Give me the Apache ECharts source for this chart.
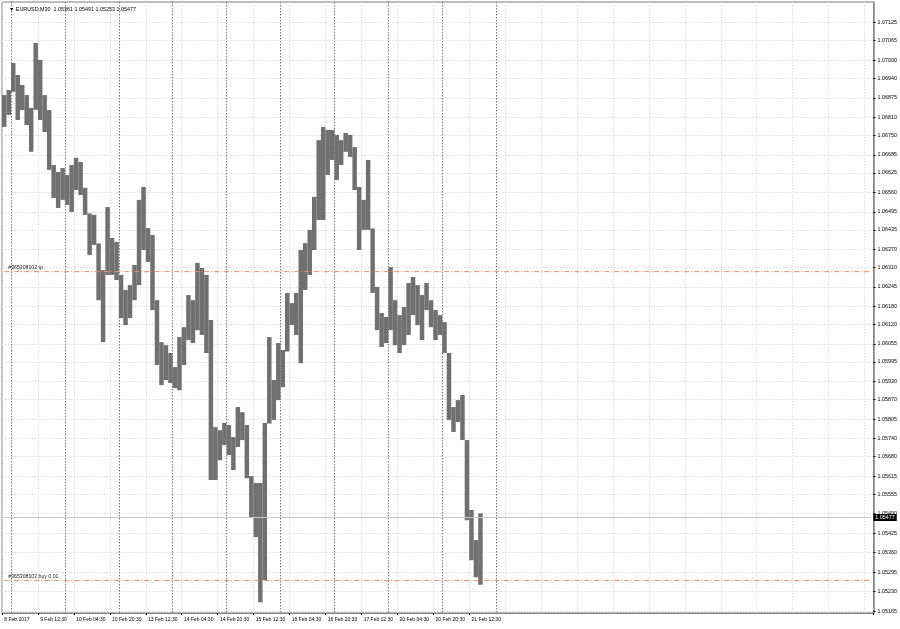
<!DOCTYPE html>
<html><head><meta charset="utf-8">
<script src="https://cdn.jsdelivr.net/npm/echarts@6/dist/echarts.min.js"></script>
<style>html,body{margin:0;padding:0;background:#fff}#c{width:900px;height:629px}</style>
</head><body><div id="c"></div>
<script>
// 2-hour buckets starting 8 Feb 2017 20:00 (M30 bars grouped), EURUSD
const dayNames = ['8 Feb','9 Feb','10 Feb','13 Feb','14 Feb','15 Feb','16 Feb','17 Feb','20 Feb','21 Feb','22 Feb','23 Feb','24 Feb','27 Feb','28 Feb','1 Mar','2 Mar'];
const highs = [
1.06884,1.06901,1.06991,1.06951,1.06918,1.06884,1.06841,1.07058,1.07001,1.06884,
1.06834,1.06651,1.06628,1.06641,1.06618,1.06651,1.06675,1.06661,1.06575,1.06490,
1.06485,1.06390,1.06301,1.06511,1.06408,1.06395,1.06285,1.06235,1.06251,1.06318,
1.06535,1.06578,1.06441,1.06418,1.06201,1.06061,1.06051,1.06025,1.05978,1.06078,
1.06111,1.06218,1.06201,1.06325,1.06308,1.06285,1.06135,1.05778,1.05768,1.05792,
1.05785,1.05745,1.05845,1.05828,1.05785,1.05615,1.05592,1.05592,1.05792,1.06078,
1.05935,1.06058,1.06035,1.06225,1.06191,1.06225,1.06368,1.06391,1.06435,1.06545,
1.06734,1.06778,1.06768,1.06768,1.06751,1.06734,1.06758,1.06751,1.06711,1.06578,
1.06535,1.06668,1.06440,1.06245,1.06158,1.06145,1.06311,1.06201,1.06151,1.06178,
1.06258,1.06278,1.06251,1.06218,1.06258,1.06201,1.06168,1.06151,1.06128,1.06025,
1.05845,1.05868,1.05885,1.05735,1.05502,1.05402,1.05491];
const lows = [
1.06778,1.06818,1.06895,1.06801,1.06834,1.06784,1.06695,1.06835,1.06801,1.06761,
1.06635,1.06541,1.06508,1.06535,1.06518,1.06495,1.06568,1.06551,1.06485,1.06351,
1.06385,1.06201,1.06061,1.06285,1.06285,1.06268,1.06141,1.06118,1.06141,1.06201,
1.06251,1.06368,1.06328,1.06168,1.05985,1.05918,1.05935,1.05925,1.05908,1.05901,
1.05985,1.06068,1.06058,1.06101,1.06085,1.06025,1.05602,1.05602,1.05668,1.05718,
1.05685,1.05635,1.05712,1.05735,1.05608,1.05478,1.05412,1.05195,1.05268,1.05790,
1.05802,1.05868,1.05911,1.06030,1.06118,1.06085,1.05991,1.06235,1.06285,1.06368,
1.06468,1.06468,1.06618,1.06668,1.06601,1.06651,1.06695,1.06678,1.06568,1.06368,
1.06435,1.06435,1.06225,1.06101,1.06045,1.06058,1.06101,1.06051,1.06025,1.06051,
1.06085,1.06151,1.06118,1.06068,1.06168,1.06111,1.06068,1.06085,1.06025,1.05802,
1.05762,1.05795,1.05735,1.05468,1.05335,1.05278,1.05253];
const yTicks = [1.07125,1.07065,1.07000,1.06940,1.06875,1.06810,1.06750,1.06685,1.06625,1.06560,1.06495,1.06435,1.06370,1.06310,1.06245,1.06180,1.06120,1.06055,1.05995,1.05930,1.05870,1.05805,1.05740,1.05680,1.05615,1.05555,1.05490,1.05425,1.05360,1.05295,1.05230,1.05165];
const xTickIndex = [0,8,16,24,32,40,48,56,64,72,80,88,96,104];
const xTickLabels = ['8 Feb 2017','9 Feb 12:30','10 Feb 04:30','10 Feb 20:30','13 Feb 12:30','14 Feb 04:30','14 Feb 20:30','15 Feb 12:30','16 Feb 04:30','16 Feb 20:30','17 Feb 12:30','20 Feb 04:30','20 Feb 20:30','21 Feb 12:30'];
const daySepIndex = [2,14,26,38,50,62,74,86,98,110];
const tpPrice = 1.06296, buyPrice = 1.05267, bidPrice = 1.05477;
const header = '\u25BC EURUSD,M30  1.05361 1.05491 1.05253 1.05477';

// build categories
const categories = [];
dayNames.forEach((d, di) => {
  const startH = di === 0 ? 20 : 0;
  for (let h = startH; h < 24; h += 2) categories.push(d + ' ' + String(h).padStart(2,'0') + ':00');
});
const labelMap = {}; xTickIndex.forEach((ix, j) => labelMap[ix] = xTickLabels[j]);
const daySet = new Set(daySepIndex);
const font = 'Liberation Sans';
const last = categories.length - 1;
const orderColor = '#ee8c64';
// order / bid levels drawn as two-point line series on the chart's scales
const levelSeries = (price, color, dash, text, z) => ({
  type: 'line', xAxisIndex: 0, silent: true, z: z, color: color,
  symbol: 'circle', symbolSize: 0.01, showSymbol: true,
  lineStyle: {color: color, type: dash, width: 1},
  data: [
    {value: [0, price], label: text ? {show: true, position: 'right', offset: [-1, -4], formatter: text, color: '#222', fontSize: 5.2, fontFamily: font} : {show: false}},
    {value: [last, price], label: {show: false}}
  ]
});

const chart = echarts.init(document.getElementById('c'), null, {renderer: 'canvas'});
chart.setOption({
  animation: false,
  backgroundColor: '#ffffff',
  title: {text: header, left: 4, top: 2, textStyle: {fontSize: 5.4, fontWeight: 'normal', color: '#000', fontFamily: font}},
  grid: {left: 2, right: 26, top: 2, bottom: 16, show: true, borderColor: '#7a7a7a', borderWidth: 1, backgroundColor: '#fff'},
  xAxis: [{
    type: 'category', data: categories, boundaryGap: true, position: 'bottom',
    axisLine: {show: true, lineStyle: {color: '#808080', width: 1}},
    axisTick: {show: true, length: 2, interval: (i) => labelMap[i] !== undefined, lineStyle: {color: '#000'}},
    axisLabel: {show: true, interval: (i) => labelMap[i] !== undefined, formatter: (v, i) => labelMap[i] || '', align: 'left', margin: 4, fontSize: 5, color: '#000', fontFamily: font},
    splitLine: {show: true, interval: (i) => daySet.has(i), lineStyle: {color: '#7a7a7a', type: [1.5, 1.5], width: 1}}
  }, {
    type: 'category', data: categories, boundaryGap: true, position: 'top',
    axisLine: {show: false}, axisTick: {show: false}, axisLabel: {show: false},
    splitLine: {show: true, interval: 7, lineStyle: {color: '#dcdcdc', type: [1.5, 1.5], width: 1}}
  }],
  yAxis: {
    type: 'value', position: 'right', min: 1.05159, max: 1.07194, scale: true,
    axisLine: {show: true, lineStyle: {color: '#808080', width: 1.5}},
    axisTick: {show: true, length: 2, customValues: yTicks, lineStyle: {color: '#000'}},
    axisLabel: {show: true, customValues: yTicks, formatter: (v) => v.toFixed(5), margin: 4, fontSize: 5.4, color: '#000', fontFamily: font},
    splitLine: {show: true, lineStyle: {color: '#dcdcdc', type: [1.5, 1.5], width: 1}}
  },
  series: [{
    type: 'custom',
    xAxisIndex: 0,
    encode: {x: 0, y: [1, 2]},
    data: highs.map((h, i) => [i, h, lows[i]]),
    renderItem: (params, api) => {
      const i = api.value(0);
      const top = api.coord([i, api.value(1)]);
      const bot = api.coord([i, api.value(2)]);
      const w = api.size([1, 0])[0];
      return {type: 'rect', shape: {x: top[0] - w / 2, y: top[1], width: w, height: Math.max(1, bot[1] - top[1])}, style: {fill: '#707070'}};
    }
  },
  {
    type: 'line', xAxisIndex: 0, data: [], silent: true, z: 3,
    markLine: {
      silent: true, symbol: 'none', animation: false,
      lineStyle: {color: '#c8c8c8', type: 'solid', width: 1},
      label: {show: true, position: 'end', formatter: '1.05477', color: '#fff', backgroundColor: '#000', padding: [1, 2], distance: 2, fontSize: 5.4, fontFamily: font},
      data: [[{xAxis: 0, yAxis: bidPrice}, {xAxis: last, yAxis: bidPrice}]]
    }
  },
  levelSeries(tpPrice, orderColor, [5, 2, 1, 2], '#365308102 tp', 4),
  levelSeries(buyPrice, orderColor, [5, 2, 1, 2], '#365308102 buy 0.01', 4)
  ]
});
</script></body></html>
